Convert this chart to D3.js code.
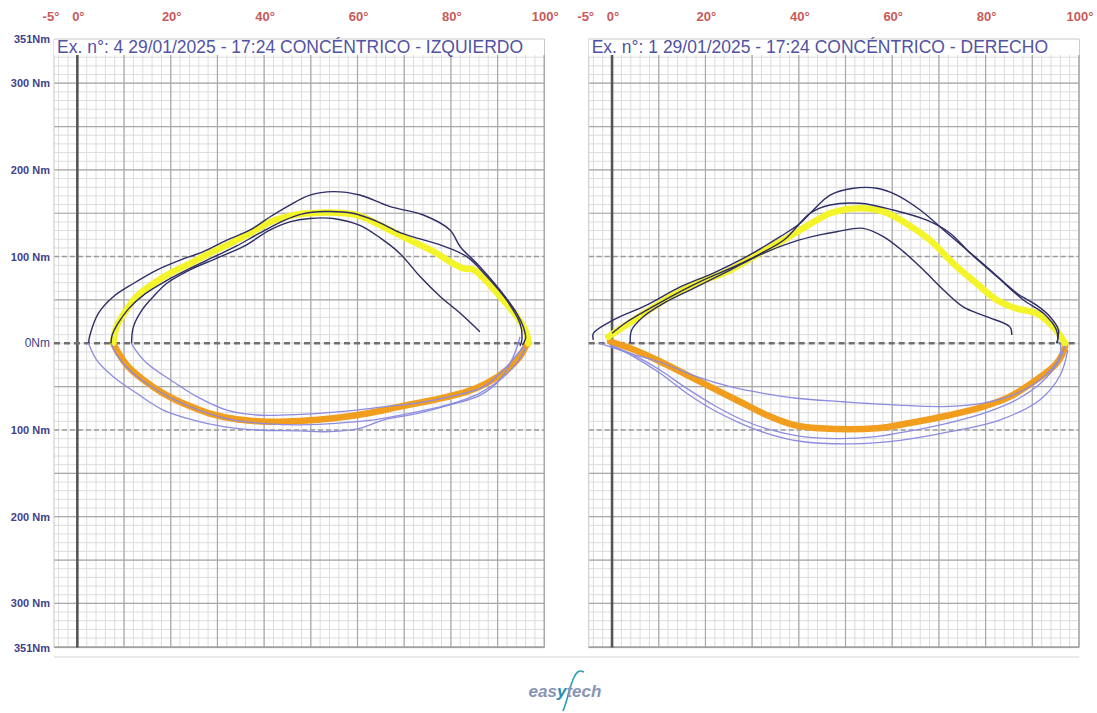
<!DOCTYPE html>
<html>
<head>
<meta charset="utf-8">
<script src="https://cdn.jsdelivr.net/npm/d3@7"></script>
<style>
  html, body { margin: 0; padding: 0; background: #ffffff; }
  svg { display: block; }
</style>
</head>
<body>
<svg id="chart" width="1097" height="713"></svg>
<script>
// ---------------- DATA ----------------
const panelTitles = [
  "Ex. n°: 4 29/01/2025 - 17:24 CONCÉNTRICO - IZQUIERDO",
  "Ex. n°: 1 29/01/2025 - 17:24 CONCÉNTRICO - DERECHO"
];
const xTickValues = [0, 20, 40, 60, 80, 100];
const xTickLabels = ["0°", "20°", "40°", "60°", "80°", "100°"];
const xMinLabel = "-5°";
const yTickValues = [351, 300, 200, 100, 0, -100, -200, -300, -351];
const yTickLabels = ["351Nm", "300 Nm", "200 Nm", "100 Nm", "0Nm", "100 Nm", "200 Nm", "300 Nm", "351Nm"];
const logoText = ["eas", "y", "tech"];

// Left panel (IZQUIERDO): [angle deg, torque Nm]
const leftYellow = [[7.7,0.7],[8.4,19],[10.2,36],[12.7,54],[16.3,69],[19.9,81],[24.1,92],[28.4,104],[32.7,115],[37,127],[41.3,140],[45.5,147],[49.8,150],[53.4,151],[59.8,148],[65.5,134.5],[71.2,119],[76.2,106],[80.5,92],[82.7,86.5],[84.8,85],[87,75],[90.5,54],[94.1,31],[96.2,11.5],[96.6,0]];
const leftOrange = [[7.7,0],[8.8,-11.5],[10.9,-27],[14.1,-42],[18.4,-57.7],[23.4,-71],[28.4,-81],[34.1,-87.7],[41.3,-90.4],[47.7,-89.5],[54.8,-86.5],[62,-81],[69.1,-73],[76.2,-65.4],[83.4,-55.8],[87.7,-46],[91.9,-31],[94.8,-15.4],[96.2,-2],[96.6,0]];
const leftDark1 = [[2.4,0.7],[2.7,9.6],[4.5,34.6],[7.7,53.8],[12,69],[17,84.5],[22,96],[27,105.7],[32,119],[37,130.7],[41.3,146],[45.5,159.5],[49.8,171],[54.8,175],[60.5,171],[67,157.6],[74.1,148],[79.8,130.7],[82,111.4],[86.2,88.4],[90.5,61.5],[94.1,34.6],[95.5,19],[96,6],[95.3,-2]];
const leftDark2 = [[7.2,0],[7.4,8.4],[8.6,22],[11,40],[14.5,57],[19,72],[24,86],[29,99],[34,112],[39,127],[44,141],[48,149],[53,152],[59,150],[64,141],[69,128],[73,121],[78,113],[83.4,100],[87.7,77],[91.9,50],[94.8,23],[95.2,4],[94.8,-3]];
const leftDark3 = [[11.6,0],[12,19],[13.8,38],[16.3,54],[19.1,69],[24,84.5],[29.8,98],[35.5,111.4],[41.3,130.7],[45.5,140],[49.8,144],[54.8,144],[60.5,136],[65,121],[69,104],[73.4,77],[77.7,54],[82,34.6],[86.2,13.4]];
const leftLight1 = [[2.4,0],[4.1,-19],[7.7,-38.5],[12.7,-57.7],[18.4,-77],[24.8,-88.5],[31.3,-96],[38.4,-100],[47.7,-101],[53,-102],[60.5,-98],[65.5,-88.5],[72.7,-81],[79.8,-71],[86.2,-60],[90.5,-42],[93.4,-15],[94.8,7.6]];
const leftLight2 = [[11.6,0],[12,-4],[14.9,-23],[19.9,-42],[25.6,-61.5],[32,-77],[38.4,-82.7],[47.7,-82],[59.8,-77],[66,-73],[72.7,-69],[79.8,-61.5],[87,-50],[91.9,-27],[95.5,-4]];
const leftLight3 = [[7.2,0],[8.5,-14],[11,-30],[15,-47],[20,-63],[26,-77],[33,-88],[41,-93],[48,-94],[56,-92],[64,-88],[72,-80],[80,-70],[86,-58],[91,-40],[94.5,-20],[96,-5]];

// Right panel (DERECHO)
const rightYellow = [[-0.8,7.6],[2.4,19],[7.4,36.5],[13.1,55.7],[18.8,71],[24.6,82.6],[30.3,100],[36,117],[40.3,130.7],[44.5,144],[46.7,150],[53.1,155.7],[58.1,151.8],[63.1,138],[68.1,119],[73.1,92],[78.1,69],[82.4,50],[86.7,40],[90.9,34.6],[94.5,19],[97,0]];
const rightOrange = [[-0.4,2],[3.9,-5.8],[10.3,-21],[16,-36.5],[21.7,-52],[27.4,-67.4],[33.1,-82.7],[38.8,-94],[44.5,-98],[56.7,-98],[63.8,-92],[72.4,-82.7],[79.5,-73],[85.2,-61.5],[90.9,-42],[95.2,-23],[97,-4],[97,0]];
const rightDark1 = [[-4,4],[-4,11.5],[0.3,27],[7.4,44],[14.6,65],[21.7,81],[28.8,100],[36,123],[40.3,138.4],[43.1,153.7],[46.7,171],[51.7,178.8],[56.7,178.8],[61,171],[66,153.7],[71,130.7],[76,107.6],[81,84.5],[86.7,57.7],[90.9,44],[93.8,30.7],[95.6,15.4],[95.2,0]];
const rightDark2 = [[0,11.5],[3,24],[8,40],[14,58],[20,74],[26,88],[32,104],[37,120],[42.4,150],[46.7,159.5],[53.1,161.5],[60.2,153.7],[67.4,142],[72.4,127],[76.7,104],[82.4,77],[88.1,50],[92.4,34.6],[95.2,15],[95.4,0]];
const rightDark3 = [[3.9,0],[4.2,15.4],[6.7,30.7],[11,46],[18.1,65],[25.3,84.5],[32.4,103.8],[38.8,117],[44.5,125],[48.1,128.7],[53.8,132.6],[58.1,123],[62.4,105.7],[66.7,84.5],[71,61.5],[75.2,42],[80.2,30.7],[85.2,19],[85.6,9.6]];
const rightLight1 = [[-2.6,0],[3.9,-11.5],[11,-23],[18.1,-38.5],[25.3,-50],[32.4,-57.7],[39.5,-63.4],[49.5,-67.4],[60.2,-71],[71,-73],[79.5,-69],[86.7,-57.7],[92.4,-38.5],[95.9,-15.4],[96,0]];
const rightLight2 = [[-0.4,-2],[4.6,-15.4],[10.3,-34.6],[16,-57.7],[21.7,-77],[27.4,-92],[33.1,-103.8],[40.3,-113],[51,-116],[61.7,-112],[72.4,-102],[83,-88.5],[91.6,-65.4],[96,-36.5],[97.6,-8]];
const rightLight3 = [[-0.4,-2],[4,-12],[10,-30],[16,-52],[22,-72],[28,-88.5],[34,-100],[40,-107],[48,-110],[56,-108],[64,-101],[72,-92],[80,-80],[87,-64],[92,-45],[95.5,-22],[97,-3]];

// ---------------- DRAW ----------------
const svg = d3.select("#chart");
const y = d3.scaleLinear().domain([-351, 351]).range([647.6, 39]);

const panels = [
  { x: d3.scaleLinear().domain([-5, 100]).range([54, 544.3]), title: panelTitles[0], showY: true,
    yellow: leftYellow, orange: leftOrange, dark: [leftDark1, leftDark2, leftDark3], light: [leftLight1, leftLight2, leftLight3] },
  { x: d3.scaleLinear().domain([-5, 100]).range([588.7, 1079]), title: panelTitles[1], showY: false,
    yellow: rightYellow, orange: rightOrange, dark: [rightDark1, rightDark2, rightDark3], light: [rightLight1, rightLight2, rightLight3] }
];

const gridTop = 55;

panels.forEach(p => {
  const g = svg.append("g");
  const x = p.x;
  const x0 = x(-5), x1 = x(100), yb = y(-351), yt = y(351);

  const minorX = d3.range(-4, 100, 2);
  g.selectAll(".mvx").data(minorX).enter().append("line")
    .attr("x1", d => x(d)).attr("x2", d => x(d))
    .attr("y1", gridTop).attr("y2", yb)
    .attr("stroke", "#dcdcdc").attr("stroke-width", 1);
  const minorY = d3.range(-350, 351, 10);
  g.selectAll(".mhy").data(minorY).enter().append("line")
    .attr("x1", x0).attr("x2", x1)
    .attr("y1", d => y(d)).attr("y2", d => y(d))
    .attr("stroke", "#dcdcdc").attr("stroke-width", 1);
  const majorX = d3.range(10, 101, 10);
  g.selectAll(".Mvx").data(majorX).enter().append("line")
    .attr("x1", d => x(d)).attr("x2", d => x(d))
    .attr("y1", gridTop).attr("y2", yb)
    .attr("stroke", "#a8a8a8").attr("stroke-width", 1.2);
  const majorY = d3.range(-350, 351, 50).filter(v => v !== 0 && Math.abs(v) !== 100);
  g.selectAll(".Mhy").data(majorY).enter().append("line")
    .attr("x1", x0).attr("x2", x1)
    .attr("y1", d => y(d)).attr("y2", d => y(d))
    .attr("stroke", "#a8a8a8").attr("stroke-width", 1.2);
  [100, -100].forEach(v => {
    g.append("line").attr("x1", x0).attr("x2", x1).attr("y1", y(v)).attr("y2", y(v))
      .attr("stroke", "#9a9a9a").attr("stroke-width", 1.5).attr("stroke-dasharray", "5,3");
  });
  g.append("line").attr("x1", x0).attr("x2", x0).attr("y1", yt).attr("y2", yb).attr("stroke", "#c8c8c8");
  g.append("line").attr("x1", x0).attr("x2", x1).attr("y1", yb).attr("y2", yb).attr("stroke", "#999");
  g.append("line").attr("x1", x1).attr("x2", x1).attr("y1", yt).attr("y2", yb).attr("stroke", "#a8a8a8").attr("stroke-width", 1.2);

  g.append("line").attr("x1", x(0)).attr("x2", x(0)).attr("y1", gridTop).attr("y2", yb)
    .attr("stroke", "#555").attr("stroke-width", 2.6);
  g.append("line").attr("x1", x0).attr("x2", x1).attr("y1", y(0)).attr("y2", y(0))
    .attr("stroke", "#707070").attr("stroke-width", 2.4).attr("stroke-dasharray", "6,4");

  g.append("rect").attr("x", x0).attr("y", yt).attr("width", x1 - x0).attr("height", gridTop - yt).attr("fill", "#fff");
  g.append("line").attr("x1", x0).attr("x2", x1).attr("y1", yt).attr("y2", yt).attr("stroke", "#c8c8c8");
  g.append("text").attr("x", x0 + 3).attr("y", 53)
    .attr("font-family", "Arial, 'Liberation Sans', sans-serif").attr("font-size", 17.5)
    .attr("fill", "#5252a2").text(p.title);

  g.selectAll(".xt").data(xTickValues).enter().append("text")
    .attr("x", d => x(d) + 1).attr("y", 21).attr("text-anchor", "middle")
    .attr("font-family", "Arial, 'Liberation Sans', sans-serif").attr("font-size", 13).attr("font-weight", "bold")
    .attr("fill", "#c85a5a").text((d, i) => xTickLabels[i]);
  g.append("text").attr("x", x(-5) - 3).attr("y", 21).attr("text-anchor", "middle")
    .attr("font-family", "Arial, 'Liberation Sans', sans-serif").attr("font-size", 13).attr("font-weight", "bold")
    .attr("fill", "#c85a5a").text(xMinLabel);

  if (p.showY) {
    g.selectAll(".yt").data(yTickValues).enter().append("text")
      .attr("x", 50).attr("y", d => y(d) + 4).attr("text-anchor", "end")
      .attr("font-family", "'Liberation Sans Narrow', 'Arial Narrow', Arial, sans-serif")
      .attr("font-size", d => d === 0 ? 12 : 11).attr("font-weight", d => d === 0 ? "normal" : "bold")
      .attr("fill", "#3f3f8a").text((d, i) => yTickLabels[i]);
  }

  const line = d3.line().x(d => x(d[0])).y(d => y(d[1])).curve(d3.curveCatmullRom.alpha(0.5));

  g.append("path").datum(p.orange).attr("d", line).attr("fill", "none")
    .attr("stroke", "#f19d1e").attr("stroke-width", 6.5).attr("stroke-linecap", "round").attr("stroke-linejoin", "round");
  g.append("path").datum(p.yellow).attr("d", line).attr("fill", "none")
    .attr("stroke", "#f4f42a").attr("stroke-width", 6.5).attr("stroke-linecap", "round").attr("stroke-linejoin", "round");

  p.light.forEach(s => {
    g.append("path").datum(s).attr("d", line).attr("fill", "none")
      .attr("stroke", "#8c8ce0").attr("stroke-width", 1.3);
  });
  p.dark.forEach(s => {
    g.append("path").datum(s).attr("d", line).attr("fill", "none")
      .attr("stroke", "#2e2e66").attr("stroke-width", 1.4);
  });
});

svg.append("line").attr("x1", 54).attr("x2", 1079).attr("y1", 657).attr("y2", 657)
  .attr("stroke", "#e2e2e2").attr("stroke-width", 1.5);

const logo = svg.append("g");
const wave = d3.line().curve(d3.curveBasis);
logo.append("path")
  .attr("d", wave([[563, 711], [566, 703], [570, 688], [574, 676], [579, 670], [584, 672]]))
  .attr("fill", "none").attr("stroke", "#2a9fb8").attr("stroke-width", 1.6);
const lt = logo.append("text").attr("x", 565).attr("y", 697).attr("text-anchor", "middle")
  .attr("font-family", "Arial, 'Liberation Sans', sans-serif").attr("font-size", 17)
  .attr("font-style", "italic").attr("font-weight", "bold").attr("fill", "#8794b8");
lt.append("tspan").text(logoText[0]);
lt.append("tspan").attr("fill", "#2a8fb0").text(logoText[1]);
lt.append("tspan").text(logoText[2]);
</script>
</body>
</html>
